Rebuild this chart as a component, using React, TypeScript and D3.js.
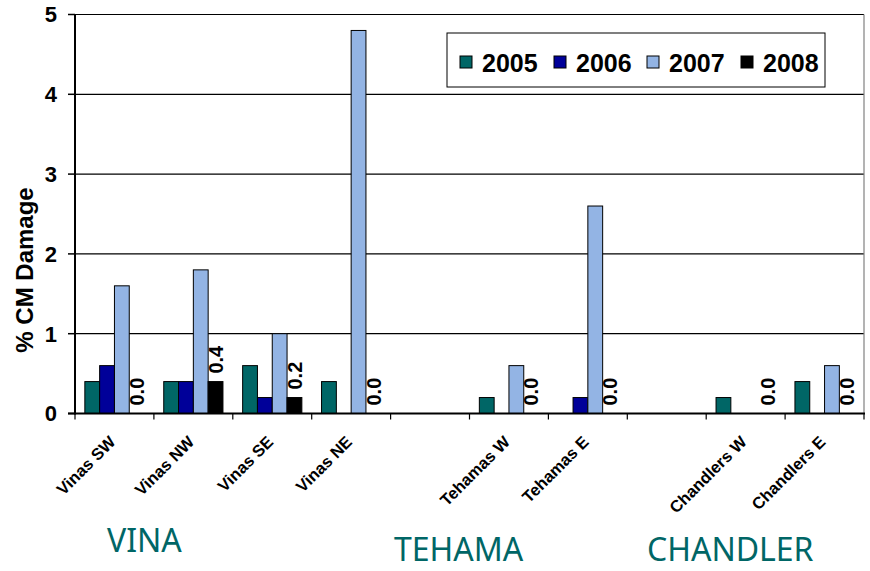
import React from "react";
import * as d3 from "d3";

const categories = ["Vinas SW", "Vinas NW", "Vinas SE", "Vinas NE", "", "Tehamas W", "Tehamas E", "", "Chandlers W", "Chandlers E"];
const seriesNames = ["2005", "2006", "2007", "2008"];
const s2005 = [0.4, 0.4, 0.6, 0.4, null, 0.2, 0, null, 0.2, 0.4];
const s2006 = [0.6, 0.4, 0.2, 0, null, 0, 0.2, null, 0, 0];
const s2007 = [1.6, 1.8, 1.0, 4.8, null, 0.6, 2.6, null, 0, 0.6];
const s2008 = [0, 0.4, 0.2, 0, null, 0, 0, null, 0, 0];
const seriesValues = [s2005, s2006, s2007, s2008];
const colors = ["#006666", "#000099", "#93B4E4", "#000000"];
const yTicks = [0, 1, 2, 3, 4, 5];
const groups = [
  { label: "VINA", x: 107, y: 552 },
  { label: "TEHAMA", x: 394, y: 561 },
  { label: "CHANDLER", x: 647, y: 561 },
];

const W = 870, H = 571;
const left = 75, right = 864, top = 14.5, bottom = 413.5;
const ARIAL = "'Liberation Sans', Arial, sans-serif";

export default function App() {
  const x = d3.scaleBand<number>().domain(d3.range(categories.length)).range([left, right]).paddingInner(0).paddingOuter(0);
  const xs = d3.scaleBand<number>().domain(d3.range(seriesNames.length)).range([0, x.bandwidth()]).paddingInner(0).paddingOuter(0.665);
  const y = d3.scaleLinear().domain([0, 5]).range([bottom, top]);

  const legendItems = [
    { sx: 460, tx: 482 },
    { sx: 554, tx: 576 },
    { sx: 647, tx: 669 },
    { sx: 741, tx: 763 },
  ];

  return (
    <svg width={W} height={H} style={{ position: "absolute", left: 0, top: 0, background: "#fff" }}>
      <rect x={0} y={0} width={W} height={H} fill="#fff" />
      {yTicks.filter(t => t > 0).map(t => (
        <line key={t} x1={left} x2={right} y1={y(t)} y2={y(t)} stroke="#000" strokeWidth={1.2} />
      ))}
      <line x1={right} x2={right} y1={top} y2={bottom} stroke="#808080" strokeWidth={1.2} />
      {seriesValues.map((vals, si) =>
        vals.map((v, ci) => {
          if (v === null || v === 0) return null;
          const bx = (x(ci) as number) + (xs(si) as number);
          return (
            <rect key={`${si}-${ci}`} x={bx} y={y(v)} width={xs.bandwidth()} height={y(0) - y(v)}
              fill={colors[si]} stroke="#000" strokeWidth={1} />
          );
        })
      )}
      {s2008.map((v, ci) => {
        if (v === null) return null;
        const cx = (x(ci) as number) + (xs(3) as number) + xs.bandwidth() / 2;
        const ty = y(v) - 8;
        return (
          <text key={`lab${ci}`} transform={`translate(${cx},${ty}) rotate(-90)`} dy="0.36em"
            fontFamily={ARIAL} fontWeight="bold" fontSize={20} fill="#000">{d3.format(".1f")(v)}</text>
        );
      })}
      <line x1={left} x2={left} y1={top - 0.5} y2={bottom + 1} stroke="#000" strokeWidth={2} />
      <line x1={left - 7} x2={right + 1} y1={bottom} y2={bottom} stroke="#000" strokeWidth={2.2} />
      {yTicks.map(t => (
        <g key={`yt${t}`}>
          <line x1={left - 7} x2={left} y1={y(t)} y2={y(t)} stroke="#000" strokeWidth={1.5} />
          <text x={57} y={y(t)} dy="0.36em" textAnchor="end" fontFamily={ARIAL} fontWeight="bold" fontSize={22}>{t}</text>
        </g>
      ))}
      {d3.range(categories.length + 1).map(i => {
        const tx = left + i * x.step();
        return <line key={`xt${i}`} x1={tx} x2={tx} y1={bottom} y2={bottom + 6} stroke="#000" strokeWidth={1.2} />;
      })}
      {categories.map((c, ci) => {
        if (!c) return null;
        const cx = (x(ci) as number) + x.bandwidth() / 2;
        return (
          <g key={`xl${ci}`} transform={`translate(${cx + 2},443)`}>
            <text transform="rotate(-45)" textAnchor="end"
              fontFamily={ARIAL} fontWeight="bold" fontSize={16.5}>{c}</text>
          </g>
        );
      })}
      <text transform={`translate(33,270) rotate(-90)`} textAnchor="middle" fontFamily={ARIAL} fontWeight="bold" fontSize={24}>% CM Damage</text>
      <rect x={447} y={33} width={378} height={54} fill="#fff" stroke="#000" strokeWidth={1} />
      {seriesNames.map((s, i) => (
        <g key={`lg${s}`}>
          <rect x={legendItems[i].sx} y={56} width={12} height={12} fill={colors[i]} stroke="#000" strokeWidth={1} />
          <text x={legendItems[i].tx} y={72} fontFamily={ARIAL} fontWeight="bold" fontSize={25}>{s}</text>
        </g>
      ))}
      {groups.map(g => (
        <text key={g.label} x={g.x} y={g.y} fontFamily="'Noto Sans', sans-serif" fontSize={32} fill="#006666">{g.label}</text>
      ))}
    </svg>
  );
}
